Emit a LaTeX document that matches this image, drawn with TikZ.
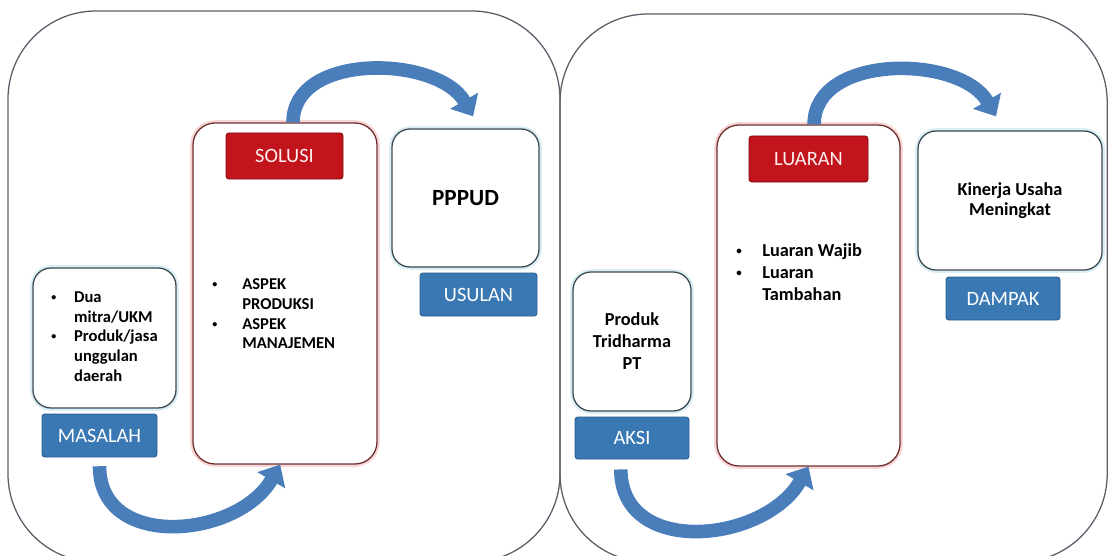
\documentclass[tikz,border=0pt]{standalone}
\usepackage{fontspec}
\setmainfont{Carlito}
\usetikzlibrary{arrows.meta}

\definecolor{panelgray}{HTML}{5E5A68}
\definecolor{boxedge}{HTML}{3B4850}
\definecolor{boxglow}{HTML}{DCEEF5}
\definecolor{bigedge}{HTML}{6E2C2C}
\definecolor{bigglow}{HTML}{F7D6D6}
\definecolor{labelblue}{HTML}{3A78B4}
\definecolor{labelblueedge}{HTML}{285A8A}
\definecolor{labelred}{HTML}{C2141C}
\definecolor{labelrededge}{HTML}{850B0F}
\definecolor{arrowblue}{HTML}{4A7EBA}

% small list bullet
\newcommand{\smallbul}{\raisebox{0.12em}{\scalebox{0.6}{\textbullet}}}

\tikzset{
  panel/.style={draw=panelgray, line width=0.9pt, rounded corners=2.2cm},
  textbox/.style={draw=boxedge, line width=0.9pt, rounded corners=0.45cm, fill=white,
    preaction={draw=boxglow, line width=4pt}, inner sep=0pt, align=center},
  bigbox/.style={draw=bigedge, line width=0.9pt, rounded corners=0.55cm, fill=white,
    preaction={draw=bigglow, line width=4pt}, inner sep=0pt},
  bluelabel/.style={fill=labelblue, draw=labelblueedge, line width=0.6pt, rounded corners=2pt,
    text=white, font=\fontsize{14.5}{16}\selectfont, inner sep=0pt},
  redlabel/.style={bluelabel, fill=labelred, draw=labelrededge, text=red!6!white},
  bigarrow/.style={draw=arrowblue, line width=0.34cm, -{Triangle[width=0.78cm,length=0.45cm]}},
}

\begin{document}
\begin{tikzpicture}
\useasboundingbox (0,0) rectangle (27.75,13.875);
\clip (0,0) rectangle (27.75,13.875);

% Two panels
\draw[panel] (0.2,-0.175) rectangle (14.0,13.6);
\draw[panel] (14.0,-0.175) rectangle (27.68,13.525);

% Left panel
\node[textbox, minimum width=3.575cm, minimum height=3.5cm,
  font=\fontsize{11.8}{14}\selectfont\bfseries] (masalah) at (2.6125,5.425) {%
  \begin{tabular}{@{}p{0.57cm}@{}l@{}}
  \smallbul & Dua\\
   & mitra/UKM\\
  \smallbul & Produk/jasa\\
   & unggulan\\
   & daerah
  \end{tabular}};
\node[bluelabel, minimum width=2.875cm, minimum height=1.075cm] (masalahlabel) at (2.4875,2.9875) {MASALAH};

\node[bigbox, minimum width=4.6cm, minimum height=8.525cm] (solusi) at (7.125,6.5375) {};
\node[redlabel, minimum width=2.925cm, minimum height=1.15cm] (solusilabel) at (7.1125,9.975) {SOLUSI};
\node[anchor=west, inner sep=0pt, font=\fontsize{11.8}{14}\selectfont\bfseries] (solusilist) at (5.3,5.99) {%
  \begin{tabular}{@{}p{0.75cm}@{}l@{}}
  \smallbul & ASPEK\\
   & PRODUKSI\\
  \smallbul & ASPEK\\
   & MANAJEMEN
  \end{tabular}};

\node[textbox, minimum width=3.675cm, minimum height=3.45cm,
  font=\fontsize{16.5}{18}\selectfont\bfseries] (pppud) at (11.6375,8.925) {PPPUD};
\node[bluelabel, minimum width=2.925cm, minimum height=1.075cm] (usulan) at (11.9625,6.5125) {USULAN};

% Right panel
\node[textbox, minimum width=2.95cm, minimum height=3.475cm,
  font=\fontsize{13}{15.6}\selectfont\bfseries] (aksi) at (15.8,5.3375) {Produk\\Tridharma\\PT};
\node[bluelabel, minimum width=2.85cm, minimum height=1.05cm] (aksilabel) at (15.8,2.925) {AKSI};

\node[bigbox, minimum width=4.575cm, minimum height=8.525cm] (luaran) at (20.2125,6.4875) {};
\node[redlabel, minimum width=2.975cm, minimum height=1.15cm] (luaranlabel) at (20.2125,9.9) {LUARAN};
\node[anchor=west, inner sep=0pt, font=\fontsize{13}{15.6}\selectfont\bfseries] (luaranlist) at (18.4,7.025) {%
  \begin{tabular}{@{}p{0.65cm}@{}l@{}}
  \smallbul & Luaran Wajib\\
  \smallbul & Luaran\\
   & Tambahan
  \end{tabular}};

\node[textbox, minimum width=4.6cm, minimum height=3.475cm,
  font=\fontsize{13}{14.2}\selectfont\bfseries] (kinerja) at (25.25,8.8625) {Kinerja Usaha\\Meningkat};
\node[bluelabel, minimum width=2.85cm, minimum height=1.075cm] (dampak) at (25.075,6.4125) {DAMPAK};

% Curved arrows
\draw[bigarrow] ([yshift=-0.22cm]masalahlabel.south) to[out=-90,in=-120,looseness=1.2] ([xshift=-0.12cm]solusi.south);
\draw[bigarrow] ([xshift=0.2cm]solusi.north) to[out=90,in=120,looseness=1.0] ([xshift=0.19cm,yshift=0.3cm]pppud.north);
\draw[bigarrow] ([xshift=-0.28cm,yshift=-0.25cm]aksilabel.south) to[out=-90,in=-120,looseness=1.2] (luaran.south);
\draw[bigarrow] ([xshift=0.14cm]luaran.north) to[out=90,in=120,looseness=1.0] ([xshift=-0.35cm,yshift=0.35cm]kinerja.north);
\end{tikzpicture}
\end{document}
